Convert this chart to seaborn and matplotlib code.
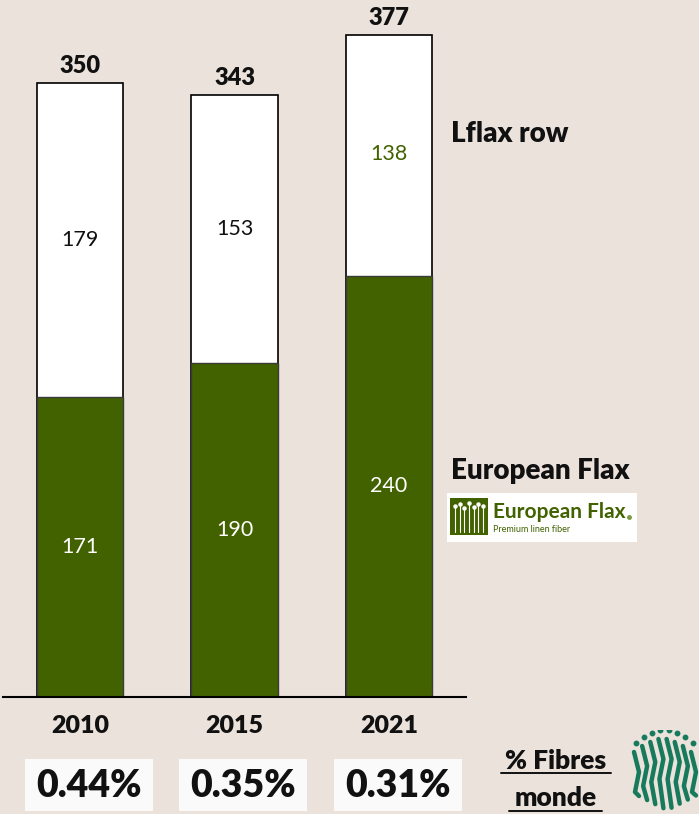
import numpy as np
import pandas as pd
import matplotlib
matplotlib.use("Agg")
import matplotlib.pyplot as plt
import matplotlib.patches as mpatches
import matplotlib.transforms as mtransforms
import seaborn as sns

# Flax fibre production (thousand tonnes)
years = ["2010", "2015", "2021"]
european_flax = [171, 190, 240]
rest_of_world = [179, 153, 138]
totals = [350, 343, 377]
share_world = ["0.44%", "0.35%", "0.31%"]

bg = "#ebe2dc"
green = "#426200"
teal = "#177a5c"
ink = "#111111"

sns.set_theme(style="white")
plt.rcParams["font.family"] = ["Lato", "DejaVu Sans"]

W, H = 699, 814
fig = plt.figure(figsize=(W / 100, H / 100), dpi=100, facecolor=bg)

def px_axes(x0, y0, x1, y1):
    # pixel box (top-left origin) -> figure axes
    return fig.add_axes([x0 / W, 1 - y1 / H, (x1 - x0) / W, (y1 - y0) / H])

ax = px_axes(3, 0, 466, 697)
ax.set_facecolor(bg)

df = pd.DataFrame({"year": years, "eu": european_flax, "row": rest_of_world, "total": totals})

sns.barplot(data=df, x="year", y="total", color="white", saturation=1,
            edgecolor="black", linewidth=1.2, width=0.558, ax=ax)
sns.barplot(data=df, x="year", y="eu", color=green, saturation=1,
            edgecolor="#3a3a3a", linewidth=1.0, width=0.558, ax=ax)

ax.set_xlim(-0.5, 2.5)
ax.set_ylim(0, 397)
ax.set_xlabel("")
ax.set_ylabel("")
ax.set_yticks([])
for s in ["top", "left", "right"]:
    ax.spines[s].set_visible(False)
ax.spines["bottom"].set_color("black")
ax.spines["bottom"].set_linewidth(1.5)
ax.tick_params(axis="x", length=0, pad=13)
ax.set_xticks(range(len(years)))
ax.set_xticklabels(years, fontsize=18, fontweight="heavy", color=ink)

for i, (eu, row, tot) in enumerate(zip(european_flax, rest_of_world, totals)):
    ax.text(i, eu / 2, str(eu), ha="center", va="center", color="white", fontsize=15.5)
    ax.text(i, eu + row / 2, str(row), ha="center", va="center",
            color=green if i == 2 else ink, fontsize=15.5)
    ax.annotate(str(tot), (i, tot), xytext=(0, 7), textcoords="offset points",
                ha="center", va="baseline", fontsize=17, fontweight="heavy", color=ink,
                annotation_clip=False)

# world share boxes below the axis
trans = mtransforms.blended_transform_factory(ax.transData, fig.transFigure)
for i, s in enumerate(share_world):
    cx = i + 0.058
    ax.add_patch(mpatches.Rectangle((cx - 0.415, 1 - 811 / H), 0.83, 52 / H,
                                    transform=trans, facecolor="#fafafa",
                                    edgecolor="none", clip_on=False))
    ax.text(cx, 1 - 786 / H, s, transform=trans, ha="center", va="center",
            fontsize=27, fontweight="heavy", color=ink, clip_on=False)

# series labels on the right
fig.text(451 / W, 1 - 134 / H, "Lflax row", ha="left", va="center",
         fontsize=20, fontweight="heavy", color=ink)
fig.text(451 / W, 1 - 471 / H, "European Flax", ha="left", va="center",
         fontsize=20, fontweight="heavy", color=ink)

# European Flax logo
lg = px_axes(447, 493, 637, 542)
lg.set_xlim(0, 190)
lg.set_ylim(49, 0)
lg.axis("off")
lg.add_patch(mpatches.Rectangle((0, 0), 190, 49, facecolor="white", edgecolor="none"))
lg.add_patch(mpatches.Rectangle((3, 5), 38, 37, facecolor=green, edgecolor="none"))
for sx, top in zip(np.linspace(8, 36, 7), [13, 11, 15, 10, 14, 11, 13]):
    lg.plot([sx, sx], [top, 39], color="white", lw=0.8)
    lg.plot(sx, top, "o", color="white", ms=2.2)
lg.text(46, 19, "European Flax", fontsize=15, fontweight="bold", color=green,
        va="center", ha="left")
lg.plot(182, 24, "o", color="#7a9a40", ms=2.5)
lg.text(46, 37, "Premium linen fiber", fontsize=6.5, color=green, va="center", ha="left")

# % Fibres monde
fig.text(556 / W, 1 - 761 / H, "% Fibres", ha="center", va="center",
         fontsize=19, fontweight="heavy", color=ink)
fig.text(556 / W, 1 - 798 / H, "monde", ha="center", va="center",
         fontsize=19, fontweight="heavy", color=ink)
fig.add_artist(plt.Line2D([501 / W, 611 / W], [1 - 773 / H] * 2, color=ink, lw=1.4))
fig.add_artist(plt.Line2D([509 / W, 602 / W], [1 - 811 / H] * 2, color=ink, lw=1.4))

# world fibre logo (zigzag stems)
wl = px_axes(630, 730, 699, 814)
wl.set_xlim(0, 69)
wl.set_ylim(84, 0)
wl.axis("off")
stems = np.linspace(6, 63, 8)
tops = [22, 16, 12, 9, 9, 12, 16, 22]
for sx, tp in zip(stems, tops):
    wl.plot(sx, tp - 9, "o", color=teal, ms=3.2)
    wl.plot([sx - 2, sx + 3, sx - 1, sx + 3], [tp, tp + 20, tp + 40, 80 - abs(sx - 34) * 0.5],
            color=teal, lw=3.2, solid_capstyle="round")

fig.savefig("out.png", dpi=100, facecolor=bg)
